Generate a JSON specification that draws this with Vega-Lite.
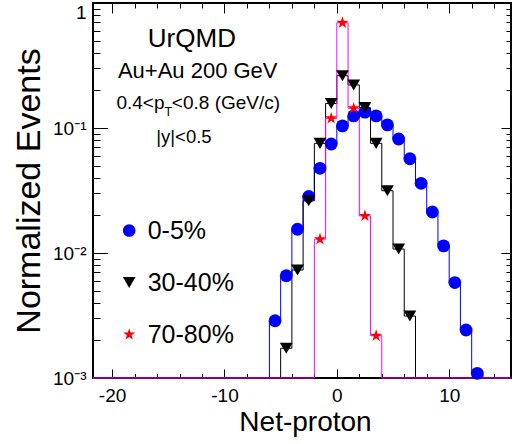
{
  "$schema": "https://vega.github.io/schema/vega-lite/v6.json",
  "width": 418,
  "height": 375,
  "autosize": {"type": "none"},
  "padding": {"left": 93, "top": 3, "right": 1, "bottom": 66},
  "background": "white",
  "config": {
    "font": "Liberation Sans",
    "view": {"stroke": "black", "strokeWidth": 2},
    "axis": {"tickColor": "black", "labelColor": "black", "titleColor": "black", "titleFontWeight": "normal", "domain": false, "grid": false, "tickWidth": 1, "labelFont": "Liberation Sans", "titleFont": "Liberation Sans"},
    "legend": {"labelFont": "Liberation Sans", "labelColor": "black"}
  },
  "datasets": {
    "hist": [
      {"series": "0-5%", "lo": -21.7, "value": 0.001},
      {"series": "0-5%", "lo": -6, "center": -5.5, "value": 0.00287},
      {"series": "0-5%", "lo": -5, "center": -4.5, "value": 0.00658},
      {"series": "0-5%", "lo": -4, "center": -3.5, "value": 0.0155},
      {"series": "0-5%", "lo": -3, "center": -2.5, "value": 0.0283},
      {"series": "0-5%", "lo": -2, "center": -1.5, "value": 0.0476},
      {"series": "0-5%", "lo": -1, "center": -0.5, "value": 0.0745},
      {"series": "0-5%", "lo": 0, "center": 0.5, "value": 0.104},
      {"series": "0-5%", "lo": 1, "center": 1.5, "value": 0.125},
      {"series": "0-5%", "lo": 2, "center": 2.5, "value": 0.134},
      {"series": "0-5%", "lo": 3, "center": 3.5, "value": 0.125},
      {"series": "0-5%", "lo": 4, "center": 4.5, "value": 0.106},
      {"series": "0-5%", "lo": 5, "center": 5.5, "value": 0.0817},
      {"series": "0-5%", "lo": 6, "center": 6.5, "value": 0.0568},
      {"series": "0-5%", "lo": 7, "center": 7.5, "value": 0.0361},
      {"series": "0-5%", "lo": 8, "center": 8.5, "value": 0.0213},
      {"series": "0-5%", "lo": 9, "center": 9.5, "value": 0.0114},
      {"series": "0-5%", "lo": 10, "center": 10.5, "value": 0.0058},
      {"series": "0-5%", "lo": 11, "center": 11.5, "value": 0.00242},
      {"series": "0-5%", "lo": 12, "center": 12.5, "value": 0.00109},
      {"series": "0-5%", "lo": 13, "value": 0.001},
      {"series": "0-5%", "lo": 15.5, "value": 0.001},
      {"series": "30-40%", "lo": -21.7, "value": 0.001},
      {"series": "30-40%", "lo": -5, "center": -4.5, "value": 0.00173},
      {"series": "30-40%", "lo": -4, "center": -3.5, "value": 0.00731},
      {"series": "30-40%", "lo": -3, "center": -2.5, "value": 0.0262},
      {"series": "30-40%", "lo": -2, "center": -1.5, "value": 0.0754},
      {"series": "30-40%", "lo": -1, "center": -0.5, "value": 0.157},
      {"series": "30-40%", "lo": 0, "center": 0.5, "value": 0.262},
      {"series": "30-40%", "lo": 1, "center": 1.5, "value": 0.221},
      {"series": "30-40%", "lo": 2, "center": 2.5, "value": 0.1454},
      {"series": "30-40%", "lo": 3, "center": 3.5, "value": 0.0754},
      {"series": "30-40%", "lo": 4, "center": 4.5, "value": 0.0315},
      {"series": "30-40%", "lo": 5, "center": 5.5, "value": 0.01076},
      {"series": "30-40%", "lo": 6, "center": 6.5, "value": 0.00313},
      {"series": "30-40%", "lo": 7, "value": 0.001},
      {"series": "30-40%", "lo": 15.5, "value": 0.001},
      {"series": "70-80%", "lo": -21.7, "value": 0.001},
      {"series": "70-80%", "lo": -2, "center": -1.5, "value": 0.0129},
      {"series": "70-80%", "lo": -1, "center": -0.5, "value": 0.1195},
      {"series": "70-80%", "lo": 0, "center": 0.5, "value": 0.695},
      {"series": "70-80%", "lo": 1, "center": 1.5, "value": 0.1437},
      {"series": "70-80%", "lo": 2, "center": 2.5, "value": 0.0198},
      {"series": "70-80%", "lo": 3, "center": 3.5, "value": 0.00218},
      {"series": "70-80%", "lo": 4, "value": 0.001},
      {"series": "70-80%", "lo": 15.5, "value": 0.001}
    ]
  },
  "resolve": {"axis": {"x": "independent", "y": "independent"}},
  "layer": [
    {
      "data": {"name": "hist"},
      "transform": [{"filter": "datum.series == '0-5%'"}],
      "mark": {"type": "line", "interpolate": "step-after", "strokeWidth": 1, "color": "#0000ff"},
      "encoding": {
        "x": {"field": "lo", "type": "quantitative", "scale": {"domain": [-21.7, 15.5], "nice": false, "zero": false},
          "axis": {"orient": "bottom", "values": [-20, -10, 0, 10], "ticks": false, "domain": false, "labelFontSize": 19, "labelPadding": 23, "labelBaseline": "alphabetic", "labelFlush": false, "labelOverlap": false, "labelExpr": "'' + datum.value", "title": "Net-proton", "titleFontSize": 28, "titleX": 212, "titleY": 52, "titleBaseline": "alphabetic", "titleAlign": "center", "titleAnchor": null}},
        "y": {"field": "value", "type": "quantitative", "scale": {"type": "log", "domain": [0.001, 1], "nice": false},
          "axis": {"orient": "left", "values": [0.001, 0.01, 0.1, 1], "ticks": false, "domain": false, "labelFontSize": 19, "labelPadding": 7, "labelAlign": "right", "labelBaseline": {"condition": {"test": "datum.value >= 0.5", "value": "top"}, "value": "middle"}, "labelFlush": false, "labelOverlap": false, "labelExpr": "datum.value >= 0.5 ? '1' : datum.value >= 0.05 ? '10⁻¹' : datum.value >= 0.005 ? '10⁻²' : '10⁻³'", "title": "Normalized Events", "titleFontSize": 34, "titleAngle": -90, "titleX": -53.5, "titleY": 187.5, "titleAlign": "center", "titleBaseline": "alphabetic"}}
      }
    },
    {
      "data": {"name": "hist"},
      "transform": [{"filter": "datum.series == '30-40%'"}],
      "mark": {"type": "line", "interpolate": "step-after", "strokeWidth": 1, "color": "#000000"},
      "encoding": {
        "x": {"field": "lo", "type": "quantitative", "scale": {"domain": [-21.7, 15.5], "nice": false, "zero": false}, "axis": null},
        "y": {"field": "value", "type": "quantitative", "scale": {"type": "log", "domain": [0.001, 1], "nice": false}, "axis": null}
      }
    },
    {
      "data": {"name": "hist"},
      "transform": [{"filter": "datum.series == '70-80%'"}],
      "mark": {"type": "line", "interpolate": "step-after", "strokeWidth": 1, "color": "#ff00ff"},
      "encoding": {
        "x": {"field": "lo", "type": "quantitative", "scale": {"domain": [-21.7, 15.5], "nice": false, "zero": false}, "axis": null},
        "y": {"field": "value", "type": "quantitative", "scale": {"type": "log", "domain": [0.001, 1], "nice": false}, "axis": null}
      }
    },
    {
      "data": {"name": "hist"},
      "transform": [{"filter": "isValid(datum.center)"}],
      "mark": {"type": "point", "filled": true, "size": 165, "opacity": 1, "strokeWidth": 0},
      "encoding": {
        "x": {"field": "center", "type": "quantitative", "scale": {"domain": [-21.7, 15.5], "nice": false, "zero": false},
          "axis": {"orient": "bottom", "values": [-20, -10, 0, 10], "labels": false, "domain": false, "title": null, "tickSize": -9}},
        "y": {"field": "value", "type": "quantitative", "scale": {"type": "log", "domain": [0.001, 1], "nice": false},
          "axis": {"orient": "left", "values": [0.001, 0.01, 0.1, 1], "labels": false, "domain": false, "title": null, "tickSize": -14.5}},
        "color": {"field": "series", "type": "nominal", "scale": {"domain": ["0-5%", "30-40%", "70-80%"], "range": ["#0000ff", "#000000", "#ff0000"]},
          "legend": {"orient": "none", "legendX": 23.7, "legendY": 215, "title": null, "labelFontSize": 25, "symbolSize": 160, "rowPadding": 26, "labelOffset": 6, "padding": 0, "symbolStrokeWidth": 0}},
        "shape": {"field": "series", "type": "nominal", "scale": {"domain": ["0-5%", "30-40%", "70-80%"], "range": ["circle", "triangle-down", "M0,-1L0.2245,-0.309L0.951,-0.309L0.363,0.118L0.588,0.809L0,0.382L-0.588,0.809L-0.363,0.118L-0.951,-0.309L-0.2245,-0.309Z"]},
          "legend": {"orient": "none", "legendX": 23.7, "legendY": 215, "title": null, "labelFontSize": 25, "symbolSize": 160, "rowPadding": 26, "labelOffset": 6, "padding": 0, "symbolStrokeWidth": 0}}
      }
    },
    {
      "data": {"values": [{"label": "UrQMD"}]},
      "mark": {"type": "text", "fontSize": 26, "align": "center", "baseline": "alphabetic", "color": "black"},
      "encoding": {
        "x": {"datum": -12.9, "type": "quantitative", "scale": {"domain": [-21.7, 15.5], "nice": false, "zero": false},
          "axis": {"orient": "bottom", "values": [-18, -16, -14, -12, -8, -6, -4, -2, 2, 4, 6, 8, 12, 14], "labels": false, "domain": false, "title": null, "tickSize": -4.5}},
        "y": {"datum": 0.447, "type": "quantitative", "scale": {"type": "log", "domain": [0.001, 1], "nice": false},
          "axis": {"orient": "left", "values": [0.002, 0.003, 0.004, 0.005, 0.006, 0.007, 0.008, 0.009, 0.02, 0.03, 0.04, 0.05, 0.06, 0.07, 0.08, 0.09, 0.2, 0.3, 0.4, 0.5, 0.6, 0.7, 0.8, 0.9], "labels": false, "domain": false, "title": null, "tickSize": -7}},
        "text": {"field": "label"}
      }
    },
    {
      "data": {"values": [{"label": "Au+Au 200 GeV"}]},
      "mark": {"type": "text", "fontSize": 22, "align": "center", "baseline": "alphabetic", "color": "black"},
      "encoding": {
        "x": {"datum": -12.38, "type": "quantitative", "scale": {"domain": [-21.7, 15.5], "nice": false, "zero": false},
          "axis": {"orient": "top", "values": [-20, -10, 0, 10], "labels": false, "domain": false, "title": null, "tickSize": -10}},
        "y": {"datum": 0.25, "type": "quantitative", "scale": {"type": "log", "domain": [0.001, 1], "nice": false},
          "axis": {"orient": "right", "values": [0.001, 0.01, 0.1, 1], "labels": false, "domain": false, "title": null, "tickSize": -10}},
        "text": {"field": "label"}
      }
    },
    {
      "data": {"values": [{"label": "0.4<p"}]},
      "mark": {"type": "text", "fontSize": 19, "align": "right", "baseline": "alphabetic", "color": "black"},
      "encoding": {
        "x": {"datum": -15.34, "type": "quantitative", "scale": {"domain": [-21.7, 15.5], "nice": false, "zero": false},
          "axis": {"orient": "top", "values": [-18, -16, -14, -12, -8, -6, -4, -2, 2, 4, 6, 8, 12, 14], "labels": false, "domain": false, "title": null, "tickSize": -5}},
        "y": {"datum": 0.1427, "type": "quantitative", "scale": {"type": "log", "domain": [0.001, 1], "nice": false},
          "axis": {"orient": "right", "values": [0.002, 0.003, 0.004, 0.005, 0.006, 0.007, 0.008, 0.009, 0.02, 0.03, 0.04, 0.05, 0.06, 0.07, 0.08, 0.09, 0.2, 0.3, 0.4, 0.5, 0.6, 0.7, 0.8, 0.9], "labels": false, "domain": false, "title": null, "tickSize": -5}},
        "text": {"field": "label"}
      }
    },
    {
      "data": {"values": [{"label": "T"}]},
      "mark": {"type": "text", "fontSize": 12.5, "align": "left", "baseline": "alphabetic", "dy": 7.6, "color": "black"},
      "encoding": {
        "x": {"datum": -15.34, "type": "quantitative", "scale": {"domain": [-21.7, 15.5], "nice": false, "zero": false}, "axis": null},
        "y": {"datum": 0.1427, "type": "quantitative", "scale": {"type": "log", "domain": [0.001, 1], "nice": false}, "axis": null},
        "text": {"field": "label"}
      }
    },
    {
      "data": {"values": [{"label": "<0.8 (GeV/c)"}]},
      "mark": {"type": "text", "fontSize": 19, "align": "left", "baseline": "alphabetic", "dx": 7.4, "color": "black"},
      "encoding": {
        "x": {"datum": -15.34, "type": "quantitative", "scale": {"domain": [-21.7, 15.5], "nice": false, "zero": false}, "axis": null},
        "y": {"datum": 0.1427, "type": "quantitative", "scale": {"type": "log", "domain": [0.001, 1], "nice": false}, "axis": null},
        "text": {"field": "label"}
      }
    },
    {
      "data": {"values": [{"label": "|y|<0.5"}]},
      "mark": {"type": "text", "fontSize": 18.5, "align": "center", "baseline": "alphabetic", "color": "black"},
      "encoding": {
        "x": {"datum": -13.61, "type": "quantitative", "scale": {"domain": [-21.7, 15.5], "nice": false, "zero": false}, "axis": null},
        "y": {"datum": 0.0759, "type": "quantitative", "scale": {"type": "log", "domain": [0.001, 1], "nice": false}, "axis": null},
        "text": {"field": "label"}
      }
    }
  ]
}
